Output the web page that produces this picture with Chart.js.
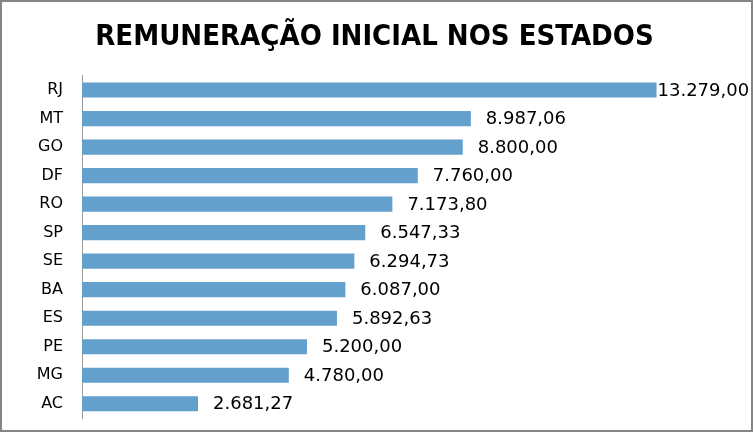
<!DOCTYPE html>
<html>
<head>
<meta charset="utf-8">
<script src="https://cdn.jsdelivr.net/npm/chart.js@4/dist/chart.umd.min.js"></script>
<style>
  html, body { margin: 0; padding: 0; background: #fff; }
  #wrap { position: relative; width: 753px; height: 432px; }
  #chart { position: absolute; left: 0; top: 0; }
  #frame {
    position: absolute; left: 0; top: 0; width: 753px; height: 432px;
    box-sizing: border-box; border: 2px solid #858585; pointer-events: none;
  }
</style>
</head>
<body>
<div id="wrap">
  <canvas id="chart" width="753" height="432"></canvas>
  <div id="frame"></div>
</div>
<script>
const states = ["RJ", "MT", "GO", "DF", "RO", "SP", "SE", "BA", "ES", "PE", "MG", "AC"];
const salaries = [13279.00, 8987.06, 8800.00, 7760.00, 7173.80, 6547.33, 6294.73, 6087.00, 5892.63, 5200.00, 4780.00, 2681.27];
const axisMin = 0;
const axisMax = 15000;

// 13279 -> "13.279,00"
function formatBR(v) {
  const parts = v.toFixed(2).split(".");
  const int = parts[0].replace(/\B(?=(\d{3})+(?!\d))/g, ".");
  return int + "," + parts[1];
}

const valueLabels = {
  id: "valueLabels",
  afterDatasetsDraw(chart) {
    const ctx = chart.ctx;
    const meta = chart.getDatasetMeta(0);
    ctx.save();
    ctx.font = "18px 'DejaVu Sans'";
    ctx.fillStyle = "#000";
    ctx.textBaseline = "middle";
    meta.data.forEach((bar, i) => {
      const text = formatBR(salaries[i]);
      const w = ctx.measureText(text).width;
      let x = bar.x + 15;
      if (x + w > chart.width - 6) x = bar.x + 1;
      ctx.fillText(text, x, bar.y + 1);
    });
    ctx.restore();
  }
};

new Chart(document.getElementById("chart"), {
  type: "bar",
  data: {
    labels: states,
    datasets: [{
      data: salaries,
      backgroundColor: "#63A0CB",
      borderWidth: 0,
      barPercentage: 0.53,
      categoryPercentage: 1
    }]
  },
  options: {
    indexAxis: "y",
    responsive: false,
    animation: false,
    layout: { padding: { top: 0, right: 22, bottom: 14, left: 18 } },
    plugins: {
      legend: { display: false },
      tooltip: { enabled: false },
      title: {
        display: true,
        text: "REMUNERAÇÃO INICIAL NOS ESTADOS",
        color: "#000",
        font: { family: "'DejaVu Sans Condensed', 'DejaVu Sans'", size: 29, weight: "bold", lineHeight: 1.2 },
        padding: { top: 20, bottom: 21 }
      }
    },
    scales: {
      x: { display: false, min: axisMin, max: axisMax },
      y: {
        grid: { display: false, drawTicks: false },
        border: { display: true, color: "#9a9a9a", width: 1 },
        ticks: { color: "#000", padding: 19, font: { family: "'DejaVu Sans'", size: 16 } },
        afterFit(scale) {
          scale.width = 64;
          scale.paddingTop = 0;
          scale.paddingBottom = 0;
        }
      }
    }
  },
  plugins: [valueLabels]
});
</script>
</body>
</html>
